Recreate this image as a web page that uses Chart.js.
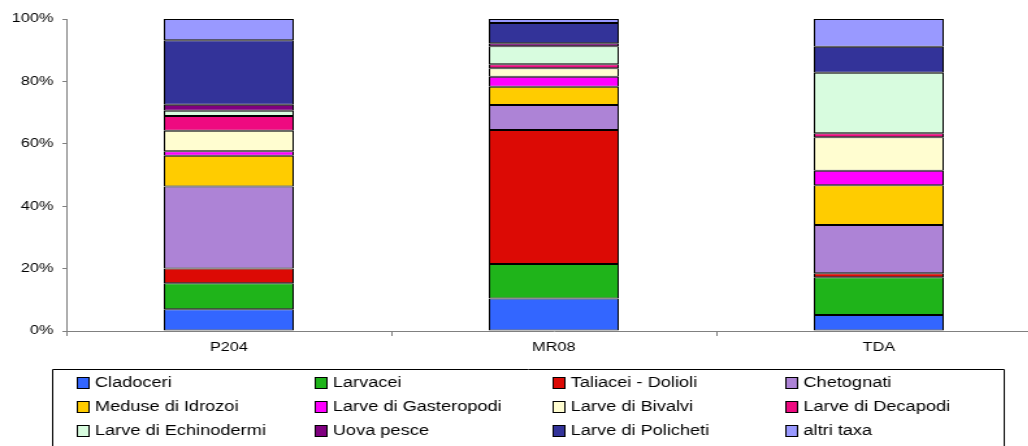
<!DOCTYPE html>
<html>
<head>
<meta charset="utf-8">
<script src="https://cdn.jsdelivr.net/npm/chart.js@4.4.1/dist/chart.umd.min.js"></script>
<style>
  html, body { margin: 0; padding: 0; background: #fff; overflow: hidden; }
  #wrap { position: absolute; left: 0; top: 0; width: 801px; height: 446px;
          transform: scaleX(1.3); transform-origin: 0 0; }
</style>
</head>
<body>
<div id="wrap"><canvas id="c" width="801" height="446"></canvas></div>
<script>
// Stations
const stations = ['P204', 'MR08', 'TDA'];

// Percent composition of each taxon at P204, MR08, TDA
const cladoceri   = [7.0, 10.4, 5.1];
const larvacei    = [8.3, 11.1, 12.1];
const taliacei    = [4.7, 42.9, 1.3];
const chetognati  = [26.3, 8.0, 15.5];
const meduse      = [9.9, 5.9, 12.7];
const gasteropodi = [1.4, 3.2, 4.7];
const bivalvi     = [6.6, 2.7, 10.7];
const decapodi    = [4.7, 1.3, 1.3];
const echinodermi = [1.7, 5.8, 19.4];
const uovaPesce   = [1.9, 0.9, 0.0];
const policheti   = [20.7, 6.5, 8.3];
const altriTaxa   = [6.8, 1.3, 8.9];

// Y axis tick values
const yTicks = [0, 20, 40, 60, 80, 100];

const series = [
  ['Cladoceri', cladoceri, '#3366FF'],
  ['Larvacei', larvacei, '#1FB41A'],
  ['Taliacei - Dolioli', taliacei, '#DC0A05'],
  ['Chetognati', chetognati, '#AD83D6'],
  ['Meduse di Idrozoi', meduse, '#FFCC00'],
  ['Larve di Gasteropodi', gasteropodi, '#FF00FF'],
  ['Larve di Bivalvi', bivalvi, '#FFFDD0'],
  ['Larve di Decapodi', decapodi, '#EE0A80'],
  ['Larve di Echinodermi', echinodermi, '#D8FCDF'],
  ['Uova pesce', uovaPesce, '#800080'],
  ['Larve di Policheti', policheti, '#333399'],
  ['altri taxa', altriTaxa, '#9999FF']
];

const FONT = '"Liberation Sans", Arial, sans-serif';

// Boxed four-column legend under the plot
const boxLegend = {
  id: 'boxLegend',
  afterDraw(chart) {
    const ctx = chart.ctx;
    const boxLeft = 40.5, boxRight = 772.5, boxTop = 369.5;
    const cols = [59, 242, 425, 604];
    const rows = [383, 407, 431];
    ctx.save();
    ctx.strokeStyle = '#000';
    ctx.lineWidth = 1;
    ctx.beginPath();
    ctx.moveTo(boxLeft, chart.height + 5);
    ctx.lineTo(boxLeft, boxTop);
    ctx.lineTo(boxRight, boxTop);
    ctx.lineTo(boxRight, chart.height + 5);
    ctx.stroke();
    ctx.font = '14px ' + FONT;
    ctx.textBaseline = 'middle';
    ctx.fillStyle = '#000';
    chart.data.datasets.forEach((ds, i) => {
      const x = cols[i % 4], y = rows[Math.floor(i / 4)];
      ctx.fillStyle = ds.backgroundColor;
      ctx.fillRect(x, y - 6, 10, 12);
      ctx.strokeStyle = '#000';
      ctx.strokeRect(x + 0.5, y - 5.5, 9, 11);
      ctx.fillStyle = '#000';
      ctx.fillText(ds.label, x + 14, y + 0.5);
    });
    ctx.restore();
  }
};

new Chart(document.getElementById('c'), {
  type: 'bar',
  data: {
    labels: stations,
    datasets: series.map(([label, values, color]) => ({
      label,
      data: values,
      backgroundColor: color,
      borderColor: '#000',
      borderWidth: 1,
      borderSkipped: false,
      barPercentage: 0.4,
      categoryPercentage: 1.0
    }))
  },
  options: {
    responsive: false,
    animation: false,
    layout: { padding: { top: 19, right: 0, left: 0, bottom: 0 } },
    plugins: { legend: { display: false }, tooltip: { enabled: false } },
    scales: {
      x: {
        stacked: true,
        grid: { drawOnChartArea: false, offset: true, color: '#808080', tickLength: 5 },
        border: { color: '#808080', width: 1 },
        ticks: { color: '#000', padding: 4, font: { family: FONT, size: 12.5 } },
        afterFit(scale) { scale.height = 115; }
      },
      y: {
        stacked: true,
        min: 0,
        max: 100,
        afterBuildTicks(scale) { scale.ticks = yTicks.map(v => ({ value: v })); },
        grid: { drawOnChartArea: false, color: '#808080', tickLength: 3 },
        border: { color: '#808080', width: 1 },
        ticks: { color: '#000', padding: 7, font: { family: FONT, size: 12.5 },
                 callback: v => v + '%' },
        afterFit(scale) { scale.width = 51; }
      }
    }
  },
  plugins: [boxLegend]
});
</script>
</body>
</html>
